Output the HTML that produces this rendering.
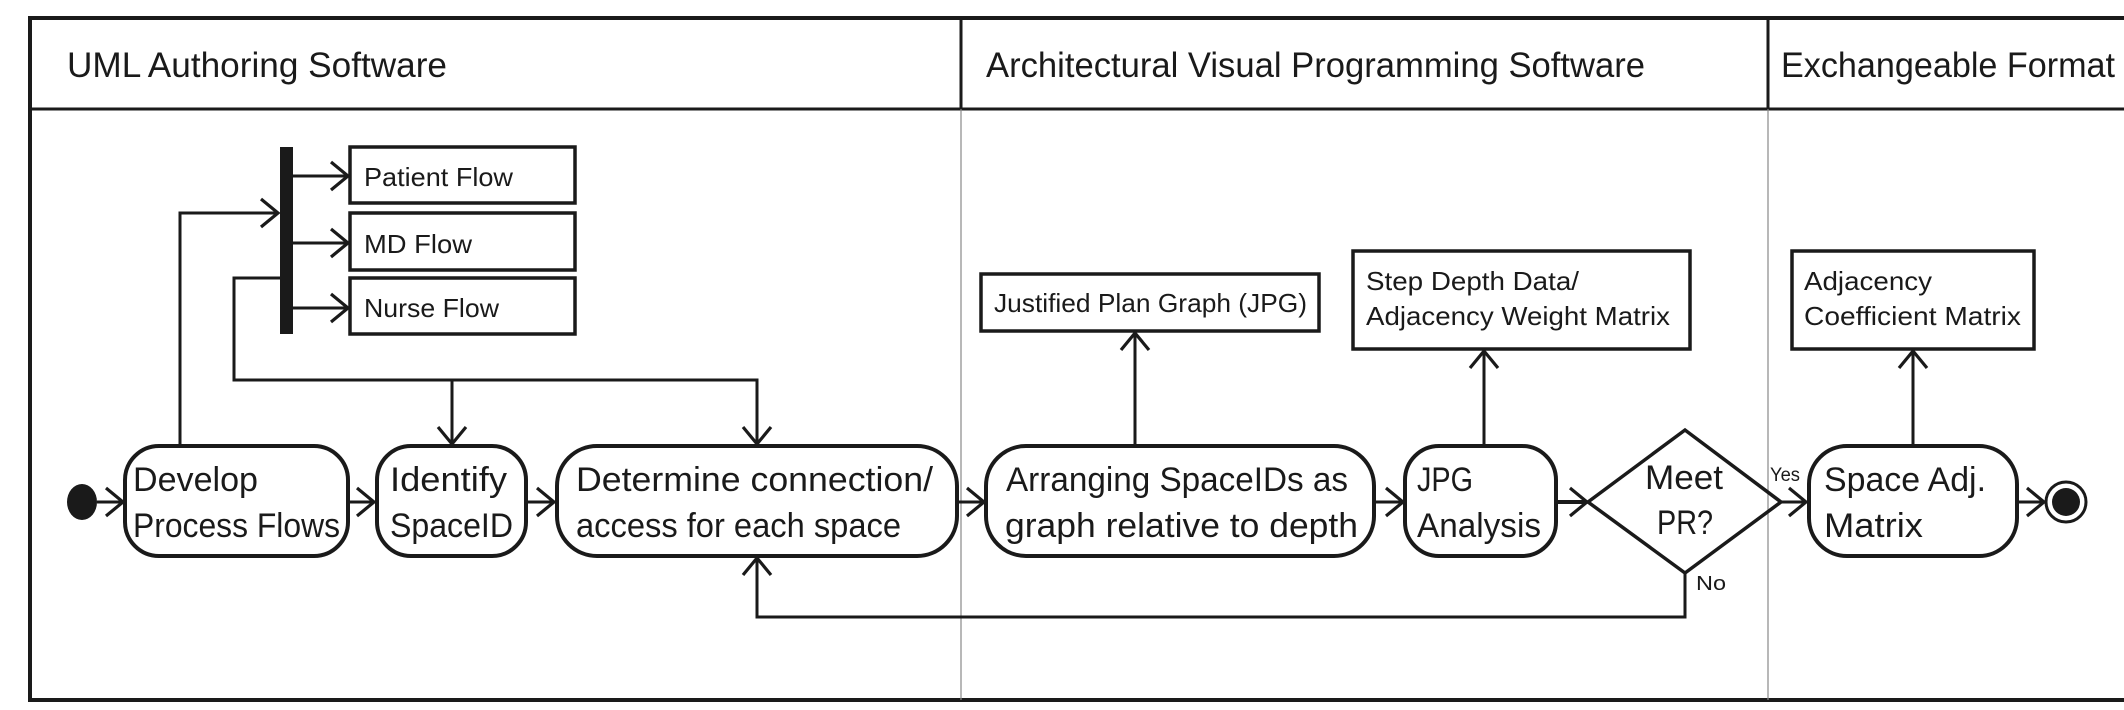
<!DOCTYPE html>
<html><head><meta charset="utf-8"><style>
html,body{margin:0;padding:0;background:#fff;}
svg{display:block;}
text{font-family:"Liberation Sans",sans-serif;fill:#1a1a1a;}
</style></head><body>
<svg width="2124" height="710" viewBox="0 0 2124 710" xmlns="http://www.w3.org/2000/svg">
<defs>
<marker id="a" markerUnits="userSpaceOnUse" markerWidth="36" markerHeight="36" refX="19" refY="16" orient="auto" viewBox="0 0 36 32">
<path d="M2,2 L19,16 L2,30" fill="none" stroke="#1a1a1a" stroke-width="3.2"/>
</marker>
</defs>
<g fill="none" stroke="#1a1a1a">
<path d="M2124,18 L30,18 L30,700 L2124,700" stroke-width="4"/>
<line x1="30" y1="109" x2="2124" y2="109" stroke-width="3"/>
<line x1="961" y1="18" x2="961" y2="109" stroke-width="3"/>
<line x1="1768" y1="18" x2="1768" y2="109" stroke-width="3"/>
<line x1="961" y1="109" x2="961" y2="700" stroke="#888" stroke-width="1.2"/>
<line x1="1768" y1="109" x2="1768" y2="700" stroke="#888" stroke-width="1.2"/>

<rect x="280" y="147" width="13" height="187" fill="#1a1a1a" stroke="none"/>
<rect x="350" y="147" width="225" height="56" stroke-width="3.5"/>
<rect x="350" y="213" width="225" height="57" stroke-width="3.5"/>
<rect x="350" y="278" width="225" height="56" stroke-width="3.5"/>
<line x1="293" y1="176" x2="348" y2="176" stroke-width="3" marker-end="url(#a)"/>
<line x1="293" y1="243" x2="348" y2="243" stroke-width="3" marker-end="url(#a)"/>
<line x1="293" y1="308" x2="348" y2="308" stroke-width="3" marker-end="url(#a)"/>
<polyline points="180,446 180,213 278,213" stroke-width="3" marker-end="url(#a)"/>
<polyline points="280,278 234,278 234,380 757,380 757,444" stroke-width="3" marker-end="url(#a)"/>
<line x1="452" y1="380" x2="452" y2="444" stroke-width="3" marker-end="url(#a)"/>

<ellipse cx="82" cy="502" rx="15" ry="18" fill="#1a1a1a" stroke="none"/>
<line x1="97" y1="502" x2="123" y2="502" stroke-width="3" marker-end="url(#a)"/>
<rect x="125" y="446" width="223" height="110" rx="34" stroke-width="4"/>
<line x1="348" y1="502" x2="374" y2="502" stroke-width="3" marker-end="url(#a)"/>
<rect x="377" y="446" width="149" height="110" rx="34" stroke-width="4"/>
<line x1="526" y1="502" x2="554" y2="502" stroke-width="3" marker-end="url(#a)"/>
<rect x="557" y="446" width="400" height="110" rx="40" stroke-width="4"/>
<line x1="957" y1="502" x2="984" y2="502" stroke-width="3" marker-end="url(#a)"/>
<rect x="986" y="446" width="388" height="110" rx="40" stroke-width="4"/>
<line x1="1374" y1="502" x2="1403" y2="502" stroke-width="3" marker-end="url(#a)"/>
<rect x="1405" y="446" width="151" height="110" rx="34" stroke-width="4"/>
<line x1="1556" y1="502" x2="1587" y2="502" stroke-width="4" marker-end="url(#a)"/>
<polygon points="1588,502 1685,430 1781,502 1685,573" stroke-width="3.5"/>
<line x1="1781" y1="502" x2="1806" y2="502" stroke-width="3" marker-end="url(#a)"/>
<rect x="1809" y="446" width="208" height="110" rx="38" stroke-width="4"/>
<line x1="2017" y1="502" x2="2044" y2="502" stroke-width="3" marker-end="url(#a)"/>
<circle cx="2066" cy="502" r="20" stroke-width="3"/>
<circle cx="2066" cy="502" r="14" fill="#1a1a1a" stroke="none"/>

<polyline points="1685,573 1685,617 757,617 757,558" stroke-width="3" marker-end="url(#a)"/>

<rect x="981" y="274" width="338" height="57" stroke-width="3.5"/>
<line x1="1135" y1="446" x2="1135" y2="333" stroke-width="3" marker-end="url(#a)"/>
<rect x="1353" y="251" width="337" height="98" stroke-width="3.5"/>
<line x1="1484" y1="446" x2="1484" y2="351" stroke-width="3" marker-end="url(#a)"/>
<rect x="1792" y="251" width="242" height="98" stroke-width="3.5"/>
<line x1="1913" y1="446" x2="1913" y2="351" stroke-width="3" marker-end="url(#a)"/>
</g>

<g>
<text x="67" y="77" font-size="35" textLength="380" lengthAdjust="spacingAndGlyphs">UML Authoring Software</text>
<text x="986" y="77" font-size="35" textLength="659" lengthAdjust="spacingAndGlyphs">Architectural Visual Programming Software</text>
<text x="1781" y="77" font-size="35" textLength="334" lengthAdjust="spacingAndGlyphs">Exchangeable Format</text>

<text x="364" y="186" font-size="26" textLength="149" lengthAdjust="spacingAndGlyphs">Patient Flow</text>
<text x="364" y="253" font-size="26" textLength="108" lengthAdjust="spacingAndGlyphs">MD Flow</text>
<text x="364" y="317" font-size="26" textLength="135" lengthAdjust="spacingAndGlyphs">Nurse Flow</text>

<text x="133" y="491" font-size="34" textLength="125" lengthAdjust="spacingAndGlyphs">Develop</text>
<text x="133" y="537" font-size="34" textLength="207" lengthAdjust="spacingAndGlyphs">Process Flows</text>
<text x="390" y="491" font-size="34" textLength="117" lengthAdjust="spacingAndGlyphs">Identify</text>
<text x="390" y="537" font-size="34" textLength="123" lengthAdjust="spacingAndGlyphs">SpaceID</text>
<text x="576" y="491" font-size="34" textLength="357" lengthAdjust="spacingAndGlyphs">Determine connection/</text>
<text x="576" y="537" font-size="34" textLength="325" lengthAdjust="spacingAndGlyphs">access for each space</text>
<text x="1006" y="491" font-size="34" textLength="342" lengthAdjust="spacingAndGlyphs">Arranging SpaceIDs as</text>
<text x="1005" y="537" font-size="34" textLength="353" lengthAdjust="spacingAndGlyphs">graph relative to depth</text>
<text x="1417" y="491" font-size="34" textLength="56" lengthAdjust="spacingAndGlyphs">JPG</text>
<text x="1417" y="537" font-size="34" textLength="124" lengthAdjust="spacingAndGlyphs">Analysis</text>
<text x="1645" y="489" font-size="34" textLength="78" lengthAdjust="spacingAndGlyphs">Meet</text>
<text x="1657" y="534" font-size="34" textLength="56" lengthAdjust="spacingAndGlyphs">PR?</text>
<text x="1770" y="481" font-size="19" textLength="30" lengthAdjust="spacingAndGlyphs">Yes</text>
<text x="1696" y="590" font-size="20" textLength="30" lengthAdjust="spacingAndGlyphs">No</text>
<text x="1824" y="491" font-size="34" textLength="162" lengthAdjust="spacingAndGlyphs">Space Adj.</text>
<text x="1824" y="537" font-size="34" textLength="99" lengthAdjust="spacingAndGlyphs">Matrix</text>

<text x="994" y="312" font-size="26" textLength="313" lengthAdjust="spacingAndGlyphs">Justified Plan Graph (JPG)</text>
<text x="1366" y="290" font-size="26" textLength="213" lengthAdjust="spacingAndGlyphs">Step Depth Data/</text>
<text x="1366" y="325" font-size="26" textLength="304" lengthAdjust="spacingAndGlyphs">Adjacency Weight Matrix</text>
<text x="1804" y="290" font-size="26" textLength="128" lengthAdjust="spacingAndGlyphs">Adjacency</text>
<text x="1804" y="325" font-size="26" textLength="217" lengthAdjust="spacingAndGlyphs">Coefficient Matrix</text>
</g>
</svg>
</body></html>
